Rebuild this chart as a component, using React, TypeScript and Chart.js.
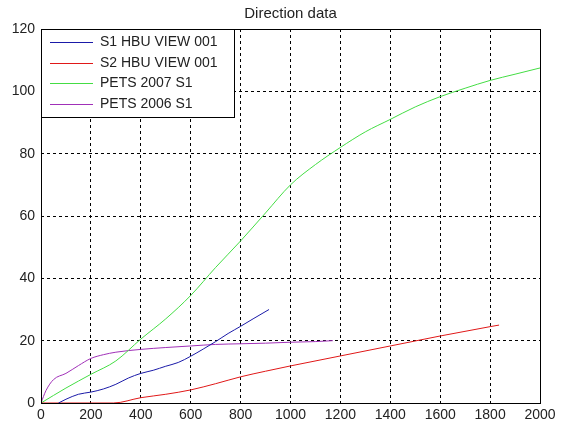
import React, { useEffect, useRef } from "react";
import { Chart, registerables } from "chart.js";
Chart.register(...registerables);

const chartTitle = "Direction data";
const xMin = 0;
const xMax = 2000;
const xStep = 200;
const yMin = 0;
const yMax = 120;
const yStep = 20;

const seriesLabels = ["S1 HBU VIEW 001", "S2 HBU VIEW 001", "PETS 2007 S1", "PETS 2006 S1"];
const seriesColors = ["#1a1aa8", "#e01818", "#44dd44", "#a030b8"];

const s1X = [70, 100, 150, 200, 250, 300, 350, 400, 450, 500, 550, 600, 650, 700, 750, 800, 850, 914];
const s1Y = [0, 1.2, 2.8, 3.5, 4.5, 6, 8, 9.5, 10.5, 11.8, 13, 15, 17.3, 19.7, 22.3, 24.6, 27, 30];

const s2X = [0, 290, 400, 500, 600, 700, 800, 900, 1000, 1200, 1400, 1600, 1800, 1836];
const s2Y = [0, 0, 1.7, 2.8, 4.2, 6.2, 8.4, 10.2, 11.9, 15.1, 18.3, 21.5, 24.5, 25];

const p7X = [0, 100, 200, 300, 400, 500, 600, 700, 800, 900, 1000, 1100, 1200, 1300, 1400, 1500, 1600, 1700, 1800, 1900, 2000];
const p7Y = [0, 4.8, 9.2, 13.5, 20.5, 27, 34.5, 43.5, 52, 61, 70, 76.5, 82, 87, 91, 95, 98.3, 101, 103.5, 105.5, 107.5];

const p6X = [0, 20, 50, 100, 150, 200, 250, 300, 400, 500, 600, 700, 800, 900, 1000, 1100, 1170];
const p6Y = [0, 4, 7.5, 9.5, 12, 14.3, 15.5, 16.3, 17.2, 17.8, 18.3, 18.8, 19, 19.2, 19.5, 19.7, 20];

const seriesX = [s1X, s2X, p7X, p6X];
const seriesY = [s1Y, s2Y, p7Y, p6Y];

const FONT = "'Liberation Sans', Arial, sans-serif";

const framePlugin = {
  id: "framePlugin",
  afterDatasetsDraw(chart: any) {
    const { ctx, chartArea } = chart;
    const { left, top } = chartArea;
    ctx.save();
    const w = 193;
    const h = 88;
    ctx.fillStyle = "#ffffff";
    ctx.fillRect(left, top, w, h);
    ctx.strokeStyle = "#000";
    ctx.lineWidth = 1;
    ctx.strokeRect(Math.round(left) + 0.5, Math.round(top) + 0.5, w, h);
    ctx.font = `14px ${FONT}`;
    ctx.textBaseline = "middle";
    ctx.textAlign = "left";
    chart.data.datasets.forEach((ds: any, i: number) => {
      const y = Math.round(top + 13 + i * 20.6) + 0.5;
      ctx.strokeStyle = ds.borderColor;
      ctx.lineWidth = 1;
      ctx.beginPath();
      ctx.moveTo(left + 9, y);
      ctx.lineTo(left + 52, y);
      ctx.stroke();
      ctx.fillStyle = "#222";
      ctx.fillText(ds.label, left + 59, y);
    });
    ctx.restore();
  },
  afterDraw(chart: any) {
    const { ctx, chartArea } = chart;
    const { left, top, right, bottom } = chartArea;
    ctx.save();
    ctx.strokeStyle = "#000";
    ctx.lineWidth = 1;
    ctx.strokeRect(Math.round(left) + 0.5, Math.round(top) + 0.5, Math.round(right - left), Math.round(bottom - top));
    ctx.fillStyle = "#222";
    ctx.font = `15px ${FONT}`;
    ctx.textAlign = "center";
    ctx.textBaseline = "middle";
    ctx.fillText(chartTitle, (left + right) / 2, 14);
    ctx.restore();
  },
};

export default function App() {
  const ref = useRef<HTMLCanvasElement>(null);
  useEffect(() => {
    if (!ref.current) return;
    const datasets = seriesLabels.map((label, i) => ({
      label,
      data: seriesX[i].map((x, j) => ({ x, y: seriesY[i][j] })),
      borderColor: seriesColors[i],
      backgroundColor: seriesColors[i],
      borderWidth: 1,
      pointRadius: 0,
      fill: false,
      cubicInterpolationMode: "monotone" as const,
    }));
    const chart = new Chart(ref.current, {
      type: "line",
      data: { datasets },
      options: {
        responsive: false,
        animation: false,
        layout: { padding: { top: 29, right: 23, left: 0, bottom: 0 } },
        plugins: { legend: { display: false }, title: { display: false }, tooltip: { enabled: false } },
        scales: {
          x: {
            type: "linear",
            min: xMin,
            max: xMax,
            ticks: {
              stepSize: xStep,
              color: "#222",
              font: { family: FONT, size: 14 },
              padding: 4,
              maxRotation: 0,
              callback: (v: any) => String(v),
            },
            grid: { color: "#000", drawTicks: false, lineWidth: 1 },
            border: { display: false, dash: [3, 3] },
            afterFit: (s: any) => { s.height = 21; },
          },
          y: {
            type: "linear",
            min: yMin,
            max: yMax,
            ticks: {
              stepSize: yStep,
              color: "#222",
              font: { family: FONT, size: 14 },
              padding: 6,
              callback: (v: any) => String(v),
            },
            grid: { color: "#000", drawTicks: false, lineWidth: 1 },
            border: { display: false, dash: [3, 3] },
            afterFit: (s: any) => { s.width = 41; },
          },
        },
      },
      plugins: [framePlugin],
    });
    return () => chart.destroy();
  }, []);
  return (
    <div style={{ position: "absolute", left: 0, top: 0, width: 563, height: 424, background: "#fff" }}>
      <canvas ref={ref} width={563} height={424} />
    </div>
  );
}
